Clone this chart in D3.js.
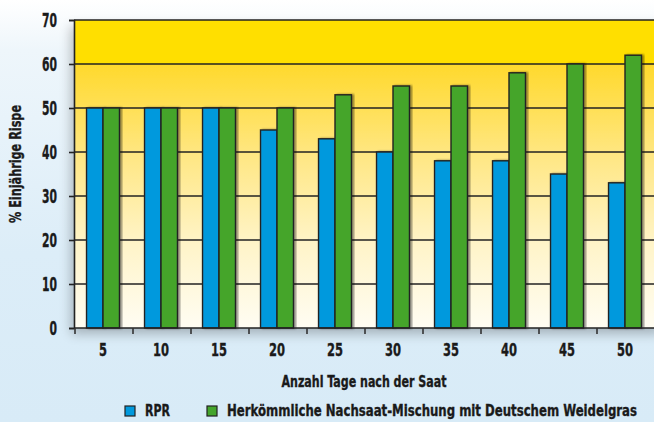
<!DOCTYPE html>
<meta charset="utf-8">
<style>
	body { margin: 0; }
	svg { display: block; }
	text { font-family: "DejaVu Sans Condensed", "DejaVu Sans", sans-serif; font-stretch: condensed; font-weight: bold; fill: #1a1a1a; stroke: #1a1a1a; stroke-width: 0.35; }
</style>
<body>
<div id="chart"></div>
<script src="https://d3js.org/d3.v7.min.js"></script>
<script>
	// data
	const days = ["5", "10", "15", "20", "25", "30", "35", "40", "45", "50"];
	const rpr = [50, 50, 50, 45, 43, 40, 38, 38, 35, 33];
	const herk = [50, 50, 50, 50, 53, 55, 55, 58, 60, 62];
	const yTicks = [0, 10, 20, 30, 40, 50, 60, 70];
	const seriesNames = ["RPR", "Herkömmliche Nachsaat-Mischung mit Deutschem Weidelgras"];
	const colors = ["#0099dd", "#44a52c"];

	const width = 654, height = 422;
	const plotLeft = 74, plotRight = 654, plotTop = 20, plotBottom = 328;

	const svg = d3.select("#chart").append("svg")
		.attr("width", width)
		.attr("height", height);

	const defs = svg.append("defs");
	const bg = defs.append("linearGradient").attr("id", "bg")
		.attr("x1", 0).attr("y1", 0).attr("x2", 0).attr("y2", 1);
	bg.append("stop").attr("offset", "0%").attr("stop-color", "#ffffff");
	bg.append("stop").attr("offset", "12%").attr("stop-color", "#eef6fb");
	bg.append("stop").attr("offset", "60%").attr("stop-color", "#dcedf8");
	bg.append("stop").attr("offset", "100%").attr("stop-color", "#d8ebf7");

	const y = d3.scaleLinear().domain([0, 70]).range([plotBottom, plotTop]);
	const x = d3.scaleBand().domain(days).range([plotLeft, plotRight]).padding(0);
	const inner = d3.scaleBand().domain([0, 1]).range([0, x.bandwidth()]).paddingInner(0).paddingOuter(0.76);

	const plotGrad = defs.append("linearGradient").attr("id", "plot")
		.attr("gradientUnits", "userSpaceOnUse")
		.attr("x1", 0).attr("y1", y(60)).attr("x2", 0).attr("y2", y(0));
	plotGrad.append("stop").attr("offset", "0%").attr("stop-color", "#ffd92c");
	plotGrad.append("stop").attr("offset", "35%").attr("stop-color", "#ffe784");
	plotGrad.append("stop").attr("offset", "68%").attr("stop-color", "#fff4c8");
	plotGrad.append("stop").attr("offset", "100%").attr("stop-color", "#fffdf3");

	const shadow = defs.append("filter").attr("id", "shadow")
		.attr("x", "-20%").attr("y", "-20%").attr("width", "140%").attr("height", "140%");
	shadow.append("feGaussianBlur").attr("in", "SourceAlpha").attr("stdDeviation", 1.2);
	shadow.append("feOffset").attr("dx", 1.5).attr("dy", 0).attr("result", "b");
	shadow.append("feComponentTransfer").append("feFuncA").attr("type", "linear").attr("slope", 0.45);
	const merge = shadow.append("feMerge");
	merge.append("feMergeNode");
	merge.append("feMergeNode").attr("in", "SourceGraphic");

	const plotShadow = defs.append("filter").attr("id", "pshadow")
		.attr("x", "-10%").attr("y", "-10%").attr("width", "120%").attr("height", "130%");
	plotShadow.append("feGaussianBlur").attr("in", "SourceAlpha").attr("stdDeviation", 6);
	plotShadow.append("feOffset").attr("dx", -3).attr("dy", 6);
	plotShadow.append("feComponentTransfer").append("feFuncA").attr("type", "linear").attr("slope", 0.25);
	const pm = plotShadow.append("feMerge");
	pm.append("feMergeNode");
	pm.append("feMergeNode").attr("in", "SourceGraphic");

	svg.append("rect").attr("width", width).attr("height", height).attr("fill", "url(#bg)");

	// plot background
	const plotG = svg.append("g").attr("filter", "url(#pshadow)");
	plotG.append("rect")
		.attr("x", plotLeft).attr("y", y(60))
		.attr("width", plotRight - plotLeft + 10).attr("height", y(0) - y(60))
		.attr("fill", "url(#plot)");
	plotG.append("rect")
		.attr("x", plotLeft).attr("y", y(70))
		.attr("width", plotRight - plotLeft + 10).attr("height", y(60) - y(70))
		.attr("fill", "#ffdf00");

	// gridlines
	svg.append("g").selectAll("line").data(yTicks.filter(d => d > 0))
		.join("line")
		.attr("x1", plotLeft).attr("x2", plotRight + 10)
		.attr("y1", d => y(d)).attr("y2", d => y(d))
		.attr("stroke", "#222").attr("stroke-width", 1.6);

	// bars
	const groups = svg.append("g").selectAll("g").data(days)
		.join("g")
		.attr("transform", d => `translate(${x(d)},0)`);
	groups.selectAll("rect")
		.data((d, i) => [rpr[i], herk[i]])
		.join("rect")
		.attr("x", (d, j) => inner(j))
		.attr("width", inner.bandwidth())
		.attr("y", d => y(d))
		.attr("height", d => y(0) - y(d))
		.attr("fill", (d, j) => colors[j])
		.attr("stroke", "#222")
		.attr("stroke-width", 1.4)
		.attr("filter", "url(#shadow)");

	// y axis
	const yAxis = svg.append("g")
		.attr("transform", `translate(${plotLeft},0)`)
		.call(d3.axisLeft(y).tickValues(yTicks).tickSize(5).tickPadding(12));
	yAxis.select(".domain").attr("stroke", "#222").attr("stroke-width", 1.6);
	yAxis.selectAll(".tick line").attr("stroke", "#222").attr("stroke-width", 1.6);
	yAxis.selectAll(".tick text").attr("font-size", 19).attr("fill", "#1a1a1a")
		.attr("font-family", null)
		.attr("textLength", d => String(d).length * 7.5)
		.attr("lengthAdjust", "spacingAndGlyphs");

	// x axis
	svg.append("line")
		.attr("x1", plotLeft).attr("x2", plotRight + 10)
		.attr("y1", y(0)).attr("y2", y(0))
		.attr("stroke", "#222").attr("stroke-width", 1.6);
	svg.append("g").selectAll("line").data(days)
		.join("line")
		.attr("x1", d => x(d) + 1).attr("x2", d => x(d) + 1)
		.attr("y1", y(0)).attr("y2", y(0) + 6)
		.attr("stroke", "#333").attr("stroke-width", 1.6);
	svg.append("g").selectAll("text").data(days)
		.join("text")
		.attr("x", d => x(d) + x.bandwidth() / 2)
		.attr("y", 356)
		.attr("text-anchor", "middle")
		.attr("font-size", 18)
		.attr("textLength", d => d.length * 8)
		.attr("lengthAdjust", "spacingAndGlyphs")
		.text(d => d);

	svg.append("text")
		.attr("x", (plotLeft + plotRight) / 2)
		.attr("y", 387)
		.attr("text-anchor", "middle")
		.attr("font-size", 16)
		.attr("textLength", 165)
		.attr("lengthAdjust", "spacingAndGlyphs")
		.text("Anzahl Tage nach der Saat");

	svg.append("text")
		.attr("transform", `translate(21,164) rotate(-90)`)
		.attr("text-anchor", "middle")
		.attr("font-size", 16)
		.attr("textLength", 118)
		.attr("lengthAdjust", "spacingAndGlyphs")
		.text("% Einjährige Rispe");

	// legend
	const legendX = [125, 207];
	const legendW = [25, 410];
	const legend = svg.append("g").selectAll("g").data(seriesNames)
		.join("g")
		.attr("transform", (d, i) => `translate(${legendX[i]},406)`);
	legend.append("rect")
		.attr("width", 10).attr("height", 10)
		.attr("fill", (d, i) => colors[i])
		.attr("stroke", "#222").attr("stroke-width", 1.2);
	legend.append("text")
		.attr("x", 20).attr("y", 10)
		.attr("font-size", 16)
		.attr("textLength", (d, i) => legendW[i])
		.attr("lengthAdjust", "spacingAndGlyphs")
		.text(d => d);
</script>
</body>
